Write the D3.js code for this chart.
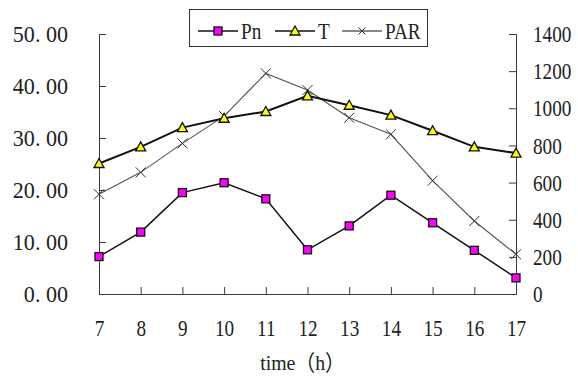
<!DOCTYPE html>
<html>
<head>
<meta charset="utf-8">
<script src="https://cdn.jsdelivr.net/npm/d3@7"></script>
<style>
  body { margin: 0; background: #fff; }
</style>
</head>
<body>
<div id="chart"></div>
<script>
// data
const hours = [7, 8, 9, 10, 11, 12, 13, 14, 15, 16, 17];
const pn = [7.2, 11.9, 19.5, 21.4, 18.3, 8.5, 13.1, 19.0, 13.7, 8.4, 3.1];
const temp = [25.1, 28.3, 32.0, 33.8, 35.1, 38.1, 36.3, 34.4, 31.4, 28.3, 27.1];
const par = [537, 655, 811, 958, 1188, 1098, 949, 860, 610, 393, 214];
const leftTicks = [0, 10, 20, 30, 40, 50];
const rightTicks = [0, 200, 400, 600, 800, 1000, 1200, 1400];

const W = 578, H = 378;
const margin = { top: 34, right: 62, bottom: 84, left: 99 };
const plotW = W - margin.left - margin.right;
const plotH = H - margin.top - margin.bottom;
const FONT = '"Liberation Serif", "Noto Sans CJK SC", serif';

const svg = d3.select('#chart')
  .append('svg')
  .attr('width', W)
  .attr('height', H);

const g = svg.append('g')
  .attr('transform', `translate(${margin.left}, ${margin.top})`);

const x = d3.scalePoint()
  .domain(hours)
  .range([0, plotW])
  .padding(0);

const yL = d3.scaleLinear().domain([0, 50]).range([plotH, 0]);
const yR = d3.scaleLinear().domain([0, 1400]).range([plotH, 0]);

const axisColor = '#3a3a3a';

// the original font is tall and narrow, squeeze the serif glyphs
function squeeze(sel, k) {
  sel.each(function () {
    const w = this.getComputedTextLength();
    d3.select(this)
      .attr('textLength', w * k)
      .attr('lengthAdjust', 'spacingAndGlyphs');
  });
}
function styleText(sel) {
  sel.style('font-family', FONT)
    .style('font-size', '24px')
    .attr('fill', '#222');
}

// left axis, ticks pointing inward
g.append('g')
  .call(d3.axisLeft(yL).tickValues(leftTicks)
    .tickSize(-7).tickPadding(31)
    .tickFormat(d => d3.format('.2f')(d).replace('.', '. ')))
  .call(a => a.selectAll('line, path').attr('stroke', axisColor))
  .selectAll('text')
  .call(styleText)
  .call(squeeze, 0.92);

// right axis (scaled with a transform so the box stays inside the page)
g.append('g')
  .attr('transform', `translate(${plotW}, 0)`)
  .call(d3.axisRight(yR).tickValues(rightTicks)
    .tickSize(-7).tickPadding(17)
    .tickFormat(d3.format('d')))
  .call(a => a.selectAll('line, path').attr('stroke', axisColor))
  .selectAll('text')
  .call(styleText)
  .attr('x', 17 / 0.8)
  .attr('transform', 'scale(0.8, 1)');

// bottom axis
g.append('g')
  .attr('transform', `translate(0, ${plotH})`)
  .call(d3.axisBottom(x).tickSize(-7).tickPadding(25).tickSizeOuter(0))
  .call(a => a.selectAll('line, path').attr('stroke', axisColor))
  .selectAll('text')
  .call(styleText)
  .call(squeeze, 0.8);

// axis title
svg.append('text')
  .attr('x', margin.left + plotW / 2 - 5)
  .attr('y', 370)
  .attr('text-anchor', 'middle')
  .call(styleText)
  .style('font-size', '22px')
  .text('time（h）')
  .call(squeeze, 0.9);

const rows = hours.map((h, i) => ({ h, pn: pn[i], t: temp[i], par: par[i] }));

// lines
g.append('path')
  .datum(rows)
  .attr('fill', 'none')
  .attr('stroke', '#555')
  .attr('stroke-width', 1.1)
  .attr('d', d3.line().x(d => x(d.h)).y(d => yR(d.par)));

g.append('path')
  .datum(rows)
  .attr('fill', 'none')
  .attr('stroke', '#111')
  .attr('stroke-width', 1.5)
  .attr('d', d3.line().x(d => x(d.h)).y(d => yL(d.pn)));

g.append('path')
  .datum(rows)
  .attr('fill', 'none')
  .attr('stroke', '#111')
  .attr('stroke-width', 2)
  .attr('d', d3.line().x(d => x(d.h)).y(d => yL(d.t)));

// markers
function crossMark(sel, s) {
  sel.append('path')
    .attr('d', `M${-s},${-s}L${s},${s}M${-s},${s}L${s},${-s}`)
    .attr('stroke', '#333')
    .attr('stroke-width', 1)
    .attr('fill', 'none');
}
function squareMark(sel) {
  sel.append('rect')
    .attr('x', -4).attr('y', -4)
    .attr('width', 8).attr('height', 8)
    .attr('fill', '#ff00ff')
    .attr('stroke', '#111')
    .attr('stroke-width', 1.3);
}
function triMark(sel) {
  sel.append('path')
    .attr('d', 'M0,-5L5,4L-5,4Z')
    .attr('fill', '#ffff00')
    .attr('stroke', '#111')
    .attr('stroke-width', 1.3);
}

g.selectAll('.parDot')
  .data(rows)
  .join('g')
  .attr('transform', d => `translate(${x(d.h)}, ${yR(d.par)})`)
  .call(crossMark, 5);

g.selectAll('.pnDot')
  .data(rows)
  .join('g')
  .attr('transform', d => `translate(${x(d.h)}, ${yL(d.pn)})`)
  .call(squareMark);

g.selectAll('.tDot')
  .data(rows)
  .join('g')
  .attr('transform', d => `translate(${x(d.h)}, ${yL(d.t)})`)
  .call(triMark);

// legend
const legend = svg.append('g');
legend.append('rect')
  .attr('x', 189.5).attr('y', 9.5)
  .attr('width', 238).attr('height', 37)
  .attr('fill', '#fff')
  .attr('stroke', '#333')
  .attr('stroke-width', 1);

const legendItems = [
  { name: 'Pn', x0: 198, mark: squareMark, stroke: 1.5 },
  { name: 'T', x0: 275, mark: triMark, stroke: 1.5 },
  { name: 'PAR', x0: 342, mark: s => crossMark(s, 3.5), stroke: 1.2 }
];
legendItems.forEach(item => {
  const li = legend.append('g').attr('transform', `translate(${item.x0}, 31)`);
  li.append('line')
    .attr('x1', 0).attr('x2', 40)
    .attr('stroke', '#111')
    .attr('stroke-width', item.stroke);
  li.append('g').attr('transform', 'translate(20, 0)').call(item.mark);
  li.append('text')
    .attr('x', 43)
    .attr('y', 8)
    .call(styleText)
    .text(item.name)
    .call(squeeze, 0.8);
});
</script>
</body>
</html>
